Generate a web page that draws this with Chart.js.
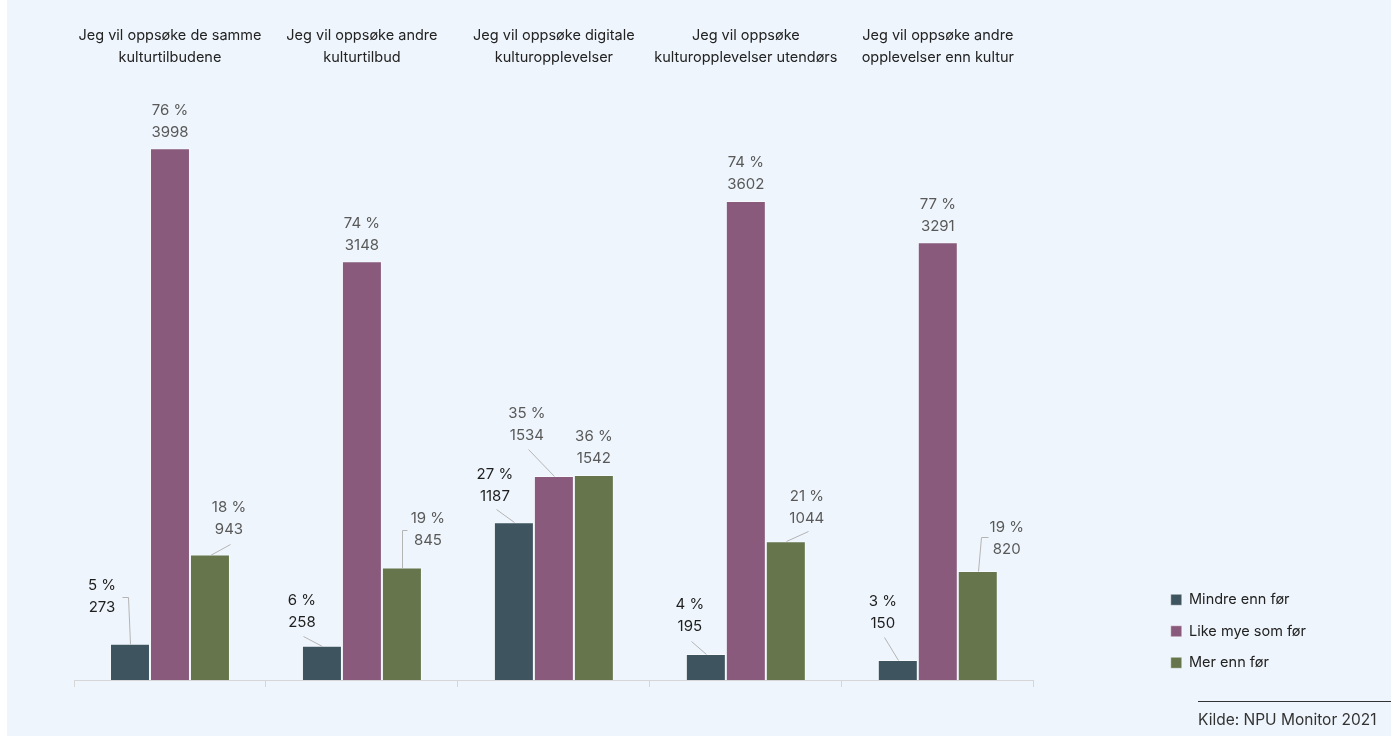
<!DOCTYPE html>
<html lang="no">
<head>
<meta charset="utf-8">
<title>Kulturopplevelser etter pandemien</title>
<script src="https://cdn.jsdelivr.net/npm/chart.js@4.4.1/dist/chart.umd.min.js"></script>
<style>
  html, body { margin: 0; padding: 0; background: #ffffff; }
  #panel { position: absolute; left: 7px; top: 0; width: 1384px; height: 736px; background: #eef5fc; }
  #chart { position: absolute; left: 0; top: 0; }
  #kilde {
    position: absolute; left: 1191px; top: 701px; width: 193px;
    border-top: 1px solid #333; padding-top: 9px;
    font: 15.5px Inter, "Noto Sans", sans-serif; line-height: 18px; color: #333;
  }
</style>
</head>
<body>
<div id="panel">
  <canvas id="chart" width="1384" height="736"></canvas>
  <div id="kilde">Kilde: NPU Monitor 2021</div>
</div>
<script>
// kategorier (vises over stolpene)
const categories = [
  ['Jeg vil oppsøke de samme', 'kulturtilbudene'],
  ['Jeg vil oppsøke andre', 'kulturtilbud'],
  ['Jeg vil oppsøke digitale', 'kulturopplevelser'],
  ['Jeg vil oppsøke', 'kulturopplevelser utendørs'],
  ['Jeg vil oppsøke andre', 'opplevelser enn kultur']
];
const seriesNames = ['Mindre enn før', 'Like mye som før', 'Mer enn før'];

// antall svar
const mindreCount = [273, 258, 1187, 195, 150];
const likeCount = [3998, 3148, 1534, 3602, 3291];
const merCount = [943, 845, 1542, 1044, 820];

// prosent
const mindrePct = [5, 6, 27, 4, 3];
const likePct = [76, 74, 35, 74, 77];
const merPct = [18, 19, 36, 21, 19];

const colors = ['#3e545e', '#895a7c', '#66754b'];
const labelColors = ['#1e1e1e', '#595959', '#595959'];

// plassering av dataetiketter, relativt til toppen av stolpen
// [dx, dy, leder-punkter]
const labelPlacement = [
  [[-28, -58, [[-8, -47], [-2, -47], [0, 0]]], [-20, -45, [[0, 0], [-19, -10]]], [-19, -48, [[-18, -13], [0, 0]]], [-16, -50, [[-15, -13], [0, 0]]], [-15, -59, [[-14, -23], [0, 0]]]],
  [[0, -38], [0, -38], [-27, -62, [[-26, -27], [0, 0]]], [0, -38], [0, -38]],
  [[19, -47, [[0, 0], [20, -11]]], [26, -49, [[5, -38], [0, -38], [0, 0]]], [0, -38], [21, -45, [[0, 0], [22, -10]]], [29, -43, [[10, -34], [3, -34], [0, 0]]]]
];

const counts = [mindreCount, likeCount, merCount];
const pcts = [mindrePct, likePct, merPct];

//Etiketter med prosent og antall
const dataLabels = {
  id: 'dataLabels',
  afterDatasetsDraw(chart) {
    const ctx = chart.ctx;
    ctx.save();
    ctx.font = '15px Inter, "Noto Sans", sans-serif';
    ctx.textAlign = 'center';
    ctx.textBaseline = 'middle';
    chart.data.datasets.forEach((ds, i) => {
      chart.getDatasetMeta(i).data.forEach((bar, j) => {
        const p = labelPlacement[i][j];
        const x = bar.x + p[0];
        const y = bar.y + p[1];
        if (p[2]) {
          ctx.strokeStyle = '#b4b4b4';
          ctx.lineWidth = 1;
          ctx.beginPath();
          p[2].forEach((pt, k) => {
            const px = Math.round(bar.x + pt[0]) + 0.5;
            const py = Math.round(bar.y + pt[1]) + 0.5;
            if (k === 0) ctx.moveTo(px, py); else ctx.lineTo(px, py);
          });
          ctx.stroke();
        }
        ctx.fillStyle = labelColors[i];
        ctx.fillText(pcts[i][j] + ' %', x, y);
        ctx.fillText(String(counts[i][j]), x, y + 22);
      });
    });
    ctx.restore();
  }
};

new Chart(document.getElementById('chart'), {
  type: 'bar',
  data: {
    labels: categories,
    datasets: seriesNames.map((name, i) => ({
      label: name,
      data: counts[i],
      backgroundColor: colors[i],
      borderColor: 'rgba(255,255,255,0.45)',
      borderWidth: 1,
      categoryPercentage: 0.625,
      barPercentage: 1
    }))
  },
  options: {
    responsive: false,
    animation: false,
    layout: { padding: { left: 67, right: 75, top: 20, bottom: 49 } },
    plugins: {
      tooltip: { enabled: false },
      legend: {
        position: 'right',
        align: 'end',
        labels: {
          boxWidth: 11,
          boxHeight: 11,
          padding: 17,
          color: '#222',
          font: { family: 'Inter, "Noto Sans", sans-serif', size: 14.5 }
        }
      }
    },
    scales: {
      x: {
        ticks: { display: false },
        grid: { offset: true, drawOnChartArea: false, drawTicks: true, tickLength: 7, color: '#d6d6d6' },
        border: { display: true, color: '#d6d6d6' }
      },
      xTop: {
        type: 'category',
        position: 'top',
        grid: { display: false },
        border: { display: false },
        ticks: {
          padding: 5,
          maxRotation: 0,
          autoSkip: false,
          color: '#222',
          font: { family: 'Inter, "Noto Sans", sans-serif', size: 14.5, lineHeight: 1.5 }
        }
      },
      y: { display: false, min: 0, max: 4500 },
      // tomrom mellom diagram og forklaring
      spacer: {
        type: 'linear',
        position: 'right',
        grid: { display: false },
        border: { display: false },
        ticks: { display: false },
        afterFit(scale) { scale.width = 120; }
      }
    }
  },
  plugins: [dataLabels]
});
</script>
</body>
</html>
